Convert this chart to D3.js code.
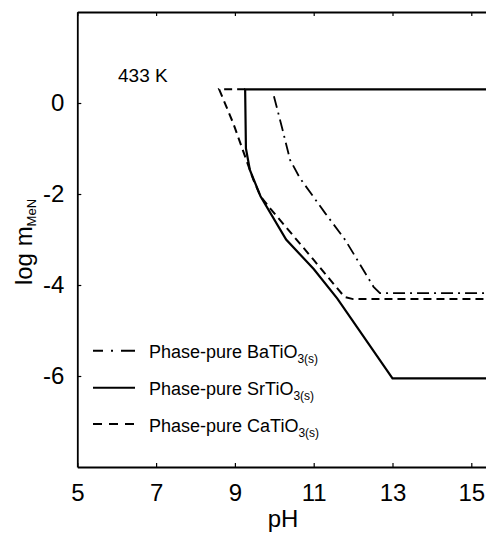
<!DOCTYPE html>
<html>
<head>
<meta charset="utf-8">
<script src="https://cdn.jsdelivr.net/npm/d3@7"></script>
<style>
  body { margin: 0; background: #fff; }
  text { font-family: "Liberation Sans", Arial, sans-serif; fill: #000; }
</style>
</head>
<body>
<div id="container"></div>
<script>
// data (pH vs log m)
const phBa  = [9.99, 10.19, 10.4, 10.65, 11.29, 11.8, 12.52, 12.68, 15.4];
const logBa = [0.15, -0.52, -1.25, -1.65, -2.42, -3.01, -4.04, -4.18, -4.18];
const phSr  = [15.4, 9.26, 9.28, 9.38, 9.65, 10.3, 11.0, 11.6, 13.0, 15.4];
const logSr = [0.3, 0.3, -1.0, -1.47, -2.05, -3.0, -3.65, -4.3, -6.05, -6.05];
const phCa  = [9.26, 8.6, 8.96, 9.26, 9.47, 9.65, 9.9, 11.0, 11.78, 12.0, 15.4];
const logCa = [0.3, 0.3, -0.45, -1.18, -1.69, -2.05, -2.32, -3.45, -4.26, -4.31, -4.31];
const xTicks = [5, 7, 9, 11, 13, 15];
const yTicks = [0, -2, -4, -6];
const legendNames = ["BaTiO", "SrTiO", "CaTiO"];

const width = 486, height = 536;
const margin = {top: 12, left: 77.3, bottom: 69};

const svg = d3.select("#container")
  .append("svg")
    .attr("width", width)
    .attr("height", height);

const x = d3.scaleLinear().domain([5, 16]).range([margin.left, margin.left + 11 * 39.4]);
const y = d3.scaleLinear().domain([-8, 2]).range([height - margin.bottom, margin.top]);

// axes, ticks point inward
svg.append("g")
  .attr("transform", `translate(0,${y(-8)})`)
  .call(d3.axisBottom(x).tickValues(xTicks).tickSize(-4).tickSizeOuter(0).tickPadding(17))
  .call(g => g.selectAll("text").style("font-size", "24px"));

svg.append("g")
  .attr("transform", `translate(0,${y(2)})`)
  .call(d3.axisTop(x).tickValues(xTicks).tickSize(-4).tickSizeOuter(0).tickFormat(""));

svg.append("g")
  .attr("transform", `translate(${x(5)},0)`)
  .call(d3.axisLeft(y).tickValues(yTicks).tickSize(-4).tickSizeOuter(0).tickPadding(13)
    .tickFormat(d => String(d)))
  .call(g => g.selectAll("text").style("font-size", "24px"));

svg.selectAll(".domain").attr("stroke", "#000").attr("stroke-width", 1.8);
svg.selectAll(".tick line").attr("stroke", "#000").attr("stroke-width", 1.2);
svg.selectAll(".tick text").attr("font-family", null);

// lines
const line = d3.line().x(d => x(d[0])).y(d => y(d[1]));
const series = [
  {ph: phCa, lg: logCa, dash: "8,5", w: 2},
  {ph: phBa, lg: logBa, dash: "12,5,2,5", w: 1.8},
  {ph: phSr, lg: logSr, dash: null, w: 2.2}
];
series.forEach(s => {
  svg.append("path")
    .datum(s.ph.map((p, i) => [p, s.lg[i]]))
    .attr("d", line)
    .attr("fill", "none")
    .attr("stroke", "#000")
    .attr("stroke-width", s.w)
    .attr("stroke-dasharray", s.dash);
});

// labels
svg.append("text")
  .attr("x", 118).attr("y", 82)
  .style("font-size", "19px")
  .text("433 K");

svg.append("text")
  .attr("x", 283).attr("y", 527)
  .attr("text-anchor", "middle")
  .style("font-size", "24px")
  .text("pH");

const yl = svg.append("text")
  .attr("transform", "translate(32,242) rotate(-90)")
  .attr("text-anchor", "middle")
  .style("font-size", "24px");
yl.append("tspan").text("log m");
yl.append("tspan").attr("dy", 4).style("font-size", "13px").text("MeN");

// legend
const legendDash = ["10,8,2,8,14", null, "9,7"];
const legendY = [350.7, 387.7, 424];
legendNames.forEach((name, i) => {
  svg.append("line")
    .attr("x1", 93).attr("x2", 135)
    .attr("y1", legendY[i]).attr("y2", legendY[i])
    .attr("stroke", "#000").attr("stroke-width", 2)
    .attr("stroke-dasharray", legendDash[i]);
  const t = svg.append("text")
    .attr("x", 149).attr("y", legendY[i] + 7.5)
    .style("font-size", "18px");
  t.append("tspan").text("Phase-pure " + name);
  t.append("tspan").attr("dy", 5).style("font-size", "12px").text("3(s)");
});
</script>
</body>
</html>
